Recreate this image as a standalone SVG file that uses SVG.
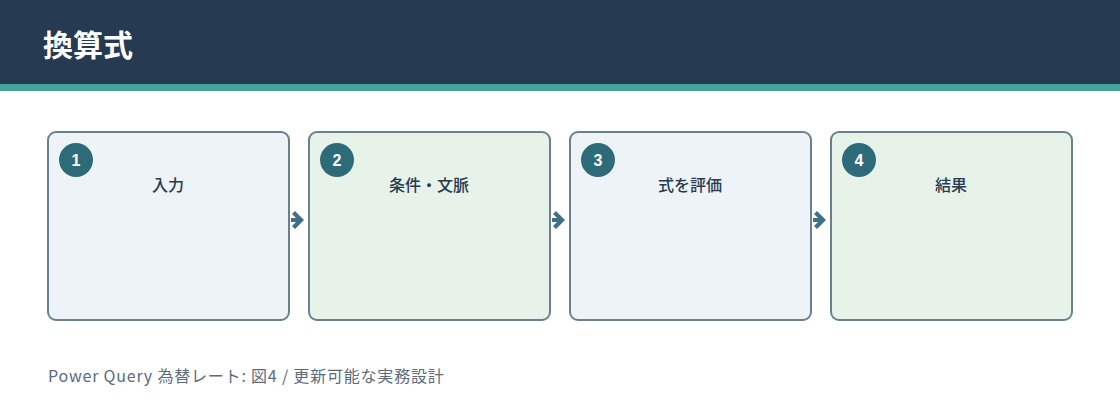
<svg xmlns="http://www.w3.org/2000/svg" width="1120" height="420" viewBox="0 0 1120 420">
<style>
.hdr{font-family:"Noto Sans CJK JP","Liberation Sans",sans-serif;font-size:30px;font-weight:700;fill:#ffffff}
.box{stroke:#6a7f90;stroke-width:2}
.b1{fill:#eef3f8}
.b2{fill:#e7f2e8}
.num{fill:#2e6b78}
.numt{font-family:"Liberation Sans","Noto Sans CJK JP",sans-serif;font-size:16px;font-weight:700;fill:#ffffff;text-anchor:middle}
.ttl{font-family:"Noto Sans CJK JP","Liberation Sans",sans-serif;font-size:16px;font-weight:500;fill:#263a52;text-anchor:middle}
.ftr{font-family:"Noto Sans CJK JP","Liberation Sans",sans-serif;font-size:16px;letter-spacing:0.8px;fill:#5b6b7c}
.arr{fill:#3f7088}
</style>
<rect x="0" y="0" width="1120" height="84" fill="#263a52"/>
<rect x="0" y="84" width="1120" height="7" fill="#4aa39a"/>
<text class="hdr" x="43" y="56">換算式</text>
<g id="connectors">
<path class="arr" d="M292,214 L295,211 L304,220 L295,229 L292,226 L296,222 L291,222 L291,218 L296,218 Z"/>
<path class="arr" d="M553,214 L556,211 L565,220 L556,229 L553,226 L557,222 L552,222 L552,218 L557,218 Z"/>
<path class="arr" d="M814,214 L817,211 L826,220 L817,229 L814,226 L818,222 L813,222 L813,218 L818,218 Z"/>
</g>
<g id="node1">
<rect class="box b1" x="48" y="132" width="241" height="188" rx="8"/>
<circle class="num" cx="76" cy="160" r="17"/>
<text class="numt" x="76" y="166">1</text>
<text class="ttl" x="168" y="191">入力</text>
</g>
<g id="node2">
<rect class="box b2" x="309" y="132" width="241" height="188" rx="8"/>
<circle class="num" cx="337" cy="160" r="17"/>
<text class="numt" x="337" y="166">2</text>
<text class="ttl" x="429" y="191">条件・文脈</text>
</g>
<g id="node3">
<rect class="box b1" x="570" y="132" width="241" height="188" rx="8"/>
<circle class="num" cx="598" cy="160" r="17"/>
<text class="numt" x="598" y="166">3</text>
<text class="ttl" x="690" y="191">式を評価</text>
</g>
<g id="node4">
<rect class="box b2" x="831" y="132" width="241" height="188" rx="8"/>
<circle class="num" cx="859" cy="160" r="17"/>
<text class="numt" x="859" y="166">4</text>
<text class="ttl" x="951" y="191">結果</text>
</g>
<text class="ftr" x="48" y="382">Power Query 為替レート: 図4 / 更新可能な実務設計</text>
</svg>
